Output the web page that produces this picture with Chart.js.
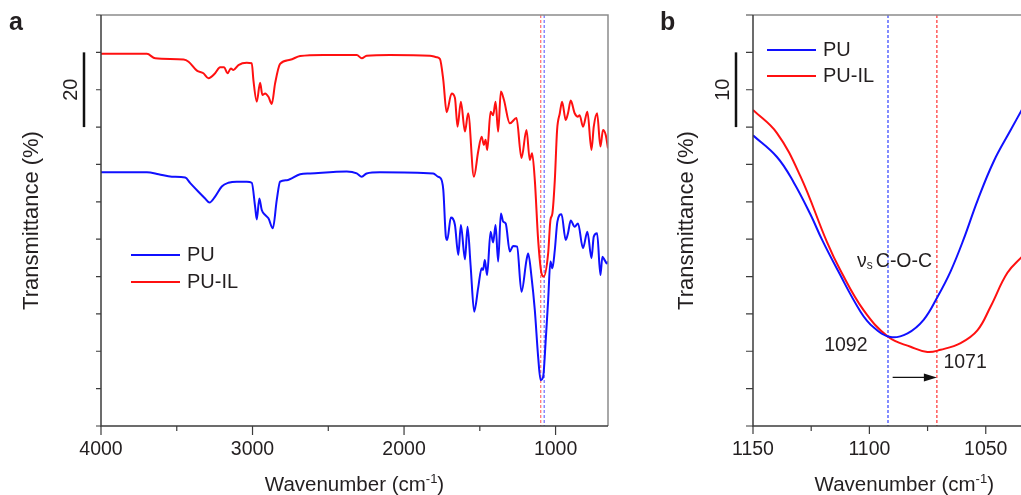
<!DOCTYPE html>
<html>
<head>
<meta charset="utf-8">
<title>FTIR PU / PU-IL</title>
<script src="https://cdn.jsdelivr.net/npm/chart.js@4.4.1/dist/chart.umd.min.js"></script>
<style>
  html, body { margin: 0; padding: 0; background: #fff; overflow: hidden; }
  #wrap { position: relative; width: 1021px; height: 495px; overflow: hidden; }
  #chartA { position: absolute; left: 0; top: 0; }
  #chartB { position: absolute; left: 640px; top: 0; }
</style>
</head>
<body>
<div id="wrap">
  <canvas id="chartA" width="640" height="495"></canvas>
  <canvas id="chartB" width="383" height="495"></canvas>
</div>
<script>
// Panel a - full spectra (wavenumber in cm-1, offset transmittance)
const waveA_PU = [4000, 3697, 3620, 3532, 3444, 3411, 3357, 3313, 3284, 3247, 3203, 3159, 3104, 3038, 3005,
  2983, 2972, 2955, 2939, 2917, 2895, 2866, 2840, 2818, 2774, 2686, 2620, 2378, 2312, 2279, 2247, 2159,
  1807, 1775, 1763, 1741, 1724, 1715, 1691, 1664, 1642, 1625, 1598, 1581, 1561, 1537, 1511, 1488, 1478,
  1467, 1452, 1429, 1412, 1396, 1379, 1361, 1346, 1329, 1302, 1280, 1254, 1225, 1192, 1181, 1159, 1137,
  1115, 1099, 1082, 1065, 1049, 1034, 1021, 1005, 988, 961, 933, 918, 900, 874, 852, 819, 790, 763, 748,
  726, 704, 691, 676, 661, 654];
const transA_PU = [67.9, 67.9, 67.4, 66.7, 66.5, 65.0, 62.7, 60.9, 59.8, 61.4, 64.1, 65.1, 65.4, 65.4, 65.1,
  58.7, 55.3, 60.9, 57.8, 56.5, 55.6, 52.9, 60.5, 65.4, 65.8, 67.4, 67.6, 68.1, 67.6, 66.7, 67.6, 67.9,
  67.6, 66.7, 66.5, 63.2, 50.7, 49.8, 55.8, 53.8, 45.8, 53.8, 44.6, 53.3, 43.1, 30.6, 36.9, 42.2, 41.8,
  44.4, 40.4, 52.0, 49.1, 53.8, 44.0, 56.9, 54.7, 54.2, 46.7, 48.2, 48.0, 35.9, 44.4, 46.2, 40.0, 31.0,
  18.5, 12.3, 13.2, 23.0, 33.7, 44.0, 42.2, 47.1, 54.7, 56.7, 49.8, 51.6, 55.0, 53.3, 54.2, 47.6, 52.0, 44.9, 50.7,
  51.6, 40.4, 45.3, 44.4, 43.5, 44.0];

const waveA_PUIL = [4000, 3697, 3642, 3455, 3422, 3367, 3324, 3291, 3247, 3214, 3187, 3165, 3143, 3126, 3093,
  3038, 3005, 2994, 2972, 2950, 2935, 2917, 2895, 2873, 2851, 2818, 2752, 2686, 2533, 2312, 2279, 2247,
  2093, 1829, 1785, 1763, 1741, 1719, 1686, 1664, 1647, 1625, 1598, 1577, 1539, 1511, 1488, 1473, 1462,
  1451, 1429, 1412, 1396, 1379, 1361, 1341, 1302, 1258, 1225, 1192, 1170, 1155, 1137, 1115, 1093, 1078,
  1049, 1034, 1021, 1005, 990, 972, 957, 933, 918, 900, 874, 852, 841, 819, 790, 763, 748, 726, 704, 687,
  669, 654];
const transA_PUIL = [99.6, 99.6, 98.4, 98.1, 97.5, 95.1, 94.4, 93.1, 94.4, 96.0, 96.0, 94.4, 95.7, 95.3, 96.6,
  97.2, 97.1, 92.5, 86.8, 91.9, 88.6, 89.0, 88.1, 86.2, 91.7, 96.9, 98.0, 99.0, 99.3, 99.3, 98.4, 99.1,
  99.3, 99.1, 98.7, 98.2, 92.6, 84.0, 89.0, 87.8, 80.1, 86.8, 78.8, 83.7, 66.7, 73.4, 77.4, 75.2, 76.6,
  73.9, 84.1, 83.2, 86.8, 78.8, 89.5, 87.3, 81.0, 82.4, 71.7, 79.2, 71.2, 73.0, 65.8, 49.8, 40.9, 40.0,
  46.2, 55.1, 56.9, 65.8, 79.2, 83.7, 86.8, 81.9, 83.7, 87.1, 83.7, 82.8, 83.2, 80.1, 84.1, 73.9, 80.1, 83.7, 74.8, 79.2,
  77.9, 74.3];

const xTicksA = [1000, 2000, 3000, 4000];
const xMinorA = [1500, 2500, 3500];
const yTicksA = [0, 10, 20, 30, 40, 50, 60, 70, 80, 90, 100, 110];
const peaksA = [1098, 1075]; // PU-IL (red), PU (blue) guide lines

// Panel b - zoom on the C-O-C stretching band
const waveB_PU = [1150, 1139.7, 1132.5, 1125.3, 1120.3, 1113.7, 1103.8, 1098.2, 1090.9, 1083.6, 1076.7,
  1070.7, 1065.1, 1059.5, 1053.5, 1046.6, 1039.3, 1034];
const transB_PU = [38.9, 36.0, 32.6, 28.3, 24.9, 20.9, 15.3, 13.2, 11.9, 12.4, 14.2,
  17.3, 20.7, 25.0, 30.2, 35.4, 39.6, 42.6];

const waveB_PUIL = [1150, 1139.7, 1129.6, 1118.2, 1112.4, 1102.5, 1091.8, 1082.3, 1075.1, 1069.4, 1060.8,
  1053.6, 1047.9, 1040.7, 1034];
const transB_PUIL = [42.3, 39.2, 33.4, 24.6, 20.8, 15.5, 11.9, 10.6, 9.9, 10.2, 11.1,
  12.8, 16.0, 20.5, 22.8];

const xTicksB = [1050, 1100, 1150];
const xMinorB = [1075, 1125];
const yTicksB = [0, 5, 10, 15, 20, 25, 30, 35, 40, 45, 50, 55];
const peaksB = [1092, 1071]; // PU, PU-IL

const FONT = "'Liberation Sans', Arial, sans-serif";
const TEXT = "#231f20";
const BLUE = "#1010ff";
const RED = "#ff1010";

function toPoints(xs, ys) {
  return xs.map((x, i) => ({ x: x, y: ys[i] }));
}

// Draw the "Wavenumber (cm-1)" title with a real superscript
function drawWaveTitle(ctx, cx, baseline) {
  const main = "Wavenumber (cm";
  const sup = "-1";
  const end = ")";
  ctx.font = "20.5px " + FONT;
  const w1 = ctx.measureText(main).width;
  const w3 = ctx.measureText(end).width;
  ctx.font = "13px " + FONT;
  const w2 = ctx.measureText(sup).width;
  let x0 = cx - (w1 + w2 + w3) / 2;
  ctx.textAlign = "left";
  ctx.textBaseline = "alphabetic";
  ctx.font = "20.5px " + FONT;
  ctx.fillText(main, x0, baseline);
  ctx.font = "13px " + FONT;
  ctx.fillText(sup, x0 + w1, baseline - 8);
  ctx.font = "20.5px " + FONT;
  ctx.fillText(end, x0 + w1 + w2, baseline);
}

// axes frame, ticks, guide lines, legend and labels
const decorPlugin = {
  id: "decor",
  beforeDatasetsDraw(chart, args, o) {
    const ctx = chart.ctx;
    const a = chart.chartArea;
    const xs = chart.scales.x;
    ctx.save();
    ctx.lineWidth = 1.2;
    ctx.setLineDash([3, 2]);
    o.peaks.forEach((p) => {
      const px = xs.getPixelForValue(p.value);
      ctx.strokeStyle = p.color;
      ctx.beginPath();
      ctx.moveTo(px, a.top);
      ctx.lineTo(px, a.bottom);
      ctx.stroke();
    });
    ctx.restore();
  },
  afterDraw(chart, args, o) {
    const ctx = chart.ctx;
    const a = chart.chartArea;
    const xs = chart.scales.x;
    const ys = chart.scales.y;
    ctx.save();

    // frame: grey top/right, dark left/bottom
    ctx.lineWidth = 1.5;
    ctx.strokeStyle = "#8c8c8c";
    ctx.beginPath();
    ctx.moveTo(a.left, a.top);
    ctx.lineTo(a.right, a.top);
    ctx.lineTo(a.right, a.bottom);
    ctx.stroke();
    ctx.strokeStyle = "#3c3c3c";
    ctx.beginPath();
    ctx.moveTo(a.left, a.top);
    ctx.lineTo(a.left, a.bottom);
    ctx.lineTo(a.right, a.bottom);
    ctx.stroke();

    // tick marks
    ctx.lineWidth = 1.2;
    ctx.beginPath();
    o.yTicks.forEach((v) => {
      const py = ys.getPixelForValue(v);
      ctx.moveTo(a.left - o.yTickLen, py);
      ctx.lineTo(a.left, py);
    });
    o.xTicks.forEach((v) => {
      const px = xs.getPixelForValue(v);
      ctx.moveTo(px, a.bottom);
      ctx.lineTo(px, a.bottom + o.xTickLen);
    });
    o.xMinor.forEach((v) => {
      const px = xs.getPixelForValue(v);
      ctx.moveTo(px, a.bottom);
      ctx.lineTo(px, a.bottom + 5);
    });
    ctx.stroke();

    // scale bar
    const barX = a.left - 17;
    ctx.strokeStyle = "#111";
    ctx.lineWidth = 2.5;
    ctx.beginPath();
    ctx.moveTo(barX, ys.getPixelForValue(o.bar.from));
    ctx.lineTo(barX, ys.getPixelForValue(o.bar.to));
    ctx.stroke();

    ctx.fillStyle = TEXT;
    const barMid = (ys.getPixelForValue(o.bar.from) + ys.getPixelForValue(o.bar.to)) / 2;
    ctx.save();
    ctx.translate(barX - 7.5, barMid);
    ctx.rotate(-Math.PI / 2);
    ctx.font = "20px " + FONT;
    ctx.textAlign = "center";
    ctx.textBaseline = "alphabetic";
    ctx.fillText(o.bar.label, 0, 0);
    ctx.restore();

    // y axis title
    ctx.save();
    ctx.translate(o.yTitleX, (a.top + a.bottom) / 2);
    ctx.rotate(-Math.PI / 2);
    ctx.font = "22px " + FONT;
    ctx.textAlign = "center";
    ctx.textBaseline = "alphabetic";
    ctx.fillText("Transmittance (%)", 0, 0);
    ctx.restore();

    // x axis title
    drawWaveTitle(ctx, xs.getPixelForValue(o.xTitleAt), 491);

    // panel letter
    ctx.font = "bold 25px " + FONT;
    ctx.textAlign = "left";
    ctx.textBaseline = "alphabetic";
    ctx.fillText(o.letter, o.letterX, 30);

    // legend
    ctx.font = "20px " + FONT;
    ctx.textBaseline = "middle";
    chart.data.datasets.forEach((ds, i) => {
      const ly = o.legend.y + i * o.legend.gap;
      ctx.strokeStyle = ds.borderColor;
      ctx.lineWidth = 2;
      ctx.beginPath();
      ctx.moveTo(o.legend.x, ly);
      ctx.lineTo(o.legend.x + 49, ly);
      ctx.stroke();
      ctx.fillStyle = TEXT;
      ctx.fillText(ds.label, o.legend.x + 56, ly);
    });

    if (o.extra) o.extra(ctx, xs, ys);
    ctx.restore();
  }
};

function makeChart(id, cfg) {
  const lineStyle = cfg.smooth
    ? { tension: 0.4 }
    : { cubicInterpolationMode: "monotone" };
  return new Chart(document.getElementById(id), {
    type: "line",
    data: {
      datasets: [
        Object.assign({
          label: "PU",
          data: toPoints(cfg.puX, cfg.puY),
          borderColor: BLUE,
          borderWidth: 2,
          pointRadius: 0,
          fill: false,
        }, lineStyle),
        Object.assign({
          label: "PU-IL",
          data: toPoints(cfg.ilX, cfg.ilY),
          borderColor: RED,
          borderWidth: 2,
          pointRadius: 0,
          fill: false,
        }, lineStyle),
      ],
    },
    options: {
      responsive: false,
      animation: false,
      events: [],
      layout: { padding: { left: 0, right: cfg.padRight, top: 15, bottom: 0 } },
      scales: {
        x: {
          type: "linear",
          reverse: true,
          min: cfg.xMin,
          max: cfg.xMax,
          afterBuildTicks: (s) => { s.ticks = cfg.xTicks.map((v) => ({ value: v })); },
          afterFit: (s) => { s.height = 69; },
          grid: { display: false, drawTicks: false },
          border: { display: false },
          ticks: {
            autoSkip: false,
            maxRotation: 0,
            padding: 12,
            color: TEXT,
            font: { family: FONT, size: 19.5 },
            callback: (v) => String(v),
          },
        },
        y: {
          min: 0,
          max: cfg.yMax,
          afterBuildTicks: (s) => { s.ticks = cfg.yTicks.map((v) => ({ value: v })); },
          afterFit: (s) => { s.width = cfg.yWidth; },
          grid: { display: false, drawTicks: false },
          border: { display: false },
          ticks: { display: false },
        },
      },
      plugins: {
        legend: { display: false },
        tooltip: { enabled: false },
        decor: cfg.decor,
      },
    },
    plugins: [decorPlugin],
  });
}

document.addEventListener("DOMContentLoaded", () => {
  // panel a
  makeChart("chartA", {
    puX: waveA_PU, puY: transA_PU, ilX: waveA_PUIL, ilY: transA_PUIL,
    xMin: 654, xMax: 4000, xTicks: xTicksA, yTicks: yTicksA, yMax: 110,
    yWidth: 101, padRight: 32, smooth: false,
    decor: {
      peaks: [{ value: peaksA[0], color: "rgba(255,60,60,0.75)" }, { value: peaksA[1], color: "rgba(60,60,255,0.75)" }],
      yTicks: yTicksA, xTicks: xTicksA, xMinor: xMinorA, yTickLen: 5, xTickLen: 9,
      bar: { from: 100, to: 80, label: "20" },
      yTitleX: 38, xTitleAt: 2327, letter: "a", letterX: 9,
      legend: { x: 131, y: 255, gap: 27 },
    },
  });

  // panel b
  makeChart("chartB", {
    puX: waveB_PU, puY: transB_PU, ilX: waveB_PUIL, ilY: transB_PUIL,
    xMin: 1034, xMax: 1150, xTicks: xTicksB, yTicks: yTicksB, yMax: 55,
    yWidth: 113, padRight: 0, smooth: true,
    decor: {
      peaks: [{ value: peaksB[0], color: "#3040ff" }, { value: peaksB[1], color: "#ff3030" }],
      yTicks: yTicksB, xTicks: xTicksB, xMinor: xMinorB, yTickLen: 7, xTickLen: 8,
      bar: { from: 50, to: 40, label: "10" },
      yTitleX: 53, xTitleAt: 1085, letter: "b", letterX: 20,
      legend: { x: 127, y: 50, gap: 26 },
      extra: (ctx, xs, ys) => {
        ctx.fillStyle = TEXT;
        ctx.textBaseline = "alphabetic";
        // vs C-O-C label
        let lx = xs.getPixelForValue(1105.3);
        const ly = ys.getPixelForValue(21.3);
        ctx.textAlign = "left";
        ctx.font = "19.5px " + FONT;
        ctx.fillText("\u03bd", lx, ly);
        lx += ctx.measureText("\u03bd").width;
        ctx.font = "12px " + FONT;
        ctx.fillText("s", lx, ly + 2);
        lx += ctx.measureText("s").width + 3;
        ctx.font = "19.5px " + FONT;
        ctx.fillText("C-O-C", lx, ly);
        // peak positions
        ctx.textAlign = "right";
        ctx.fillText(String(peaksB[0]), xs.getPixelForValue(1100.8), ys.getPixelForValue(10.0));
        ctx.textAlign = "left";
        ctx.fillText(String(peaksB[1]), xs.getPixelForValue(1068.2), ys.getPixelForValue(7.7));
        // shift arrow
        const ay = ys.getPixelForValue(6.5);
        const ax0 = xs.getPixelForValue(1090);
        const ax1 = xs.getPixelForValue(peaksB[1]);
        ctx.strokeStyle = "#111";
        ctx.lineWidth = 1.3;
        ctx.beginPath();
        ctx.moveTo(ax0, ay);
        ctx.lineTo(ax1 - 10, ay);
        ctx.stroke();
        ctx.fillStyle = "#111";
        ctx.beginPath();
        ctx.moveTo(ax1, ay);
        ctx.lineTo(ax1 - 13, ay - 4);
        ctx.lineTo(ax1 - 13, ay + 4);
        ctx.closePath();
        ctx.fill();
      },
    },
  });
});
</script>
</body>
</html>
